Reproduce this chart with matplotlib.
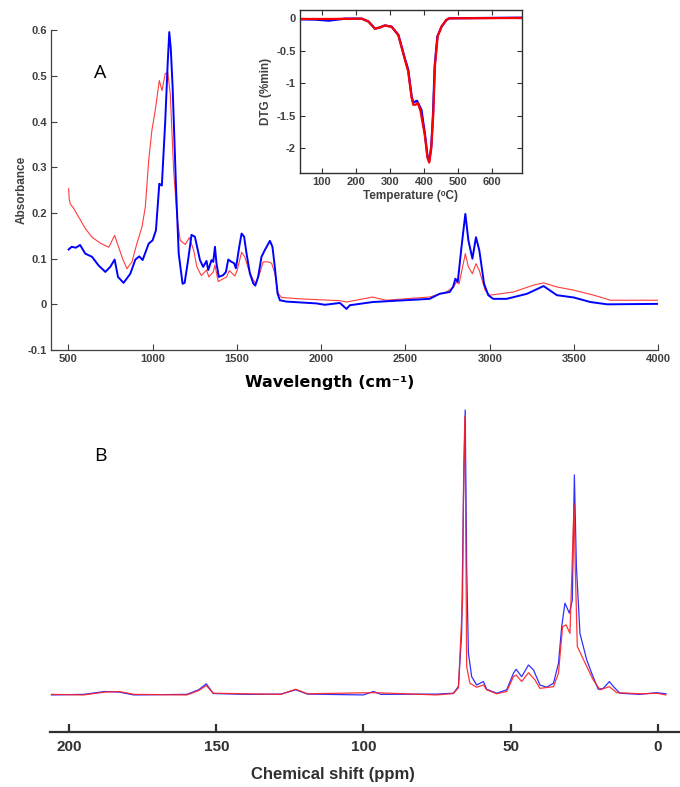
import matplotlib
matplotlib.use("Agg")
import matplotlib.pyplot as plt

W, H = 680, 787
GREY = "#404040"
BLUE = "#0000ff"
RED = "#ff3c3c"

plt.rcParams["font.family"] = ["Liberation Sans", "DejaVu Sans"]

# ---- FTIR (panel A) ----
ir_blue_wn = [502, 520, 545, 570, 601, 641, 680, 720, 749, 775, 795, 828, 868, 898, 921, 941,
              977, 1000, 1020, 1040, 1055, 1075, 1090, 1099, 1108, 1119, 1139, 1155, 1178, 1190,
              1210, 1231, 1251, 1281, 1300, 1320, 1330, 1350, 1360, 1370, 1379, 1393, 1419, 1435,
              1449, 1468, 1484, 1494, 1502, 1514, 1528, 1543, 1557, 1577, 1597, 1609, 1626, 1646,
              1666, 1696, 1711, 1725, 1741, 1755, 1794, 1972, 2022, 2111, 2150, 2170, 2305, 2643,
              2702, 2762, 2782, 2796, 2810, 2832, 2855, 2873, 2897, 2918, 2938, 2966, 2991, 3020,
              3100, 3220, 3319, 3398, 3498, 3597, 3697, 4000]
ir_blue_abs = [0.120, 0.126, 0.124, 0.130, 0.111, 0.104, 0.085, 0.071, 0.082, 0.098, 0.060, 0.047,
               0.067, 0.098, 0.105, 0.097, 0.133, 0.140, 0.162, 0.264, 0.260, 0.400, 0.530, 0.596,
               0.560, 0.475, 0.257, 0.111, 0.045, 0.047, 0.095, 0.152, 0.148, 0.097, 0.082, 0.095,
               0.075, 0.097, 0.093, 0.126, 0.090, 0.060, 0.064, 0.071, 0.098, 0.093, 0.090, 0.079,
               0.097, 0.126, 0.155, 0.148, 0.112, 0.068, 0.046, 0.041, 0.060, 0.104, 0.119, 0.139,
               0.126, 0.082, 0.024, 0.009, 0.006, 0.002, -0.001, 0.003, -0.010, -0.002, 0.005,
               0.012, 0.023, 0.027, 0.038, 0.056, 0.049, 0.125, 0.198, 0.140, 0.100, 0.147, 0.118,
               0.045, 0.020, 0.012, 0.012, 0.023, 0.040, 0.020, 0.015, 0.005, 0.000, 0.001]

ir_red_wn = [502, 506, 512, 532, 562, 601, 641, 690, 740, 775, 799, 822, 848, 878, 907, 937, 957,
             977, 996, 1016, 1040, 1056, 1075, 1090, 1105, 1125, 1145, 1164, 1194, 1218, 1244, 1263,
             1289, 1320, 1334, 1360, 1370, 1389, 1439, 1455, 1488, 1502, 1528, 1547, 1567, 1597,
             1613, 1636, 1656, 1686, 1706, 1725, 1745, 1765, 1874, 2111, 2150, 2305, 2325, 2385,
             2643, 2742, 2786, 2802, 2818, 2855, 2873, 2897, 2918, 2938, 2972, 3000, 3140, 3259,
             3319, 3398, 3498, 3617, 3716, 4000]
ir_red_abs = [0.253, 0.230, 0.220, 0.210, 0.191, 0.166, 0.147, 0.134, 0.125, 0.151, 0.125, 0.100,
              0.078, 0.093, 0.133, 0.169, 0.213, 0.315, 0.381, 0.425, 0.490, 0.468, 0.505, 0.508,
              0.461, 0.293, 0.191, 0.140, 0.131, 0.146, 0.118, 0.082, 0.063, 0.075, 0.060, 0.071,
              0.086, 0.050, 0.060, 0.074, 0.062, 0.075, 0.114, 0.104, 0.079, 0.053, 0.046, 0.068,
              0.093, 0.093, 0.090, 0.068, 0.024, 0.015, 0.012, 0.008, 0.005, 0.016, 0.014, 0.009,
              0.016, 0.027, 0.038, 0.049, 0.045, 0.111, 0.082, 0.067, 0.089, 0.074, 0.031, 0.020,
              0.027, 0.042, 0.047, 0.038, 0.031, 0.020, 0.009, 0.009]

ir_yticks = [-0.1, 0, 0.1, 0.2, 0.3, 0.4, 0.5, 0.6]
ir_ylabels = ["-0.1", "0", "0.1", "0.2", "0.3", "0.4", "0.5", "0.6"]
ir_xticks = [500, 1000, 1500, 2000, 2500, 3000, 3500, 4000]

# ---- DTG inset ----
dtg_blue_t = [37, 80, 120, 168, 217, 237, 256, 271, 285, 305, 325, 344, 354, 364, 369, 375, 380,
              393, 403, 411, 416, 422, 427, 432, 440, 452, 466, 475, 686]
dtg_blue_v = [-0.015, -0.02, -0.036, -0.005, -0.005, -0.05, -0.16, -0.14, -0.11, -0.128, -0.256,
              -0.615, -0.79, -1.2, -1.30, -1.28, -1.27, -1.41, -1.77, -2.13, -2.2, -1.97, -1.5,
              -0.74, -0.28, -0.13, -0.03, 0.0, 0.01]
dtg_red_t = [37, 120, 217, 237, 256, 271, 285, 305, 325, 344, 354, 364, 369, 376, 382, 390, 403,
             411, 416, 422, 428, 433, 441, 453, 467, 476, 686]
dtg_red_v = [-0.01, -0.01, -0.005, -0.05, -0.16, -0.14, -0.11, -0.13, -0.26, -0.63, -0.82, -1.22,
             -1.33, -1.33, -1.30, -1.42, -1.80, -2.15, -2.22, -2.0, -1.45, -0.72, -0.27, -0.12,
             -0.02, 0.0, 0.005]
dtg_yticks = [-2, -1.5, -1, -0.5, 0]
dtg_ylabels = ["-2", "-1.5", "-1", "-0.5", "0"]
dtg_xticks = [100, 200, 300, 400, 500, 600]

# ---- 13C NMR (panel B) ----
nmr_blue_ppm = [206, 195, 188, 183, 178, 160, 156, 153.4, 151, 140, 128, 123, 119, 100, 96.6, 94,
                75, 69.4, 67.7, 66.6, 66.0, 65.4, 64.9, 64.3, 63.2, 61.5, 59.2, 58.1, 54.7, 51.3,
                49.0, 48.1, 46.2, 43.9, 42.2, 40.0, 37.7, 35.4, 33.7, 32.6, 31.5, 30.0, 29.0, 28.3,
                27.6, 26.4, 24.1, 22.4, 20.2, 18.5, 16.4, 15.1, 12.8, 6.0, 0.3, -2.8]
nmr_blue_int = [0.0, 0.002, 0.012, 0.010, 0.0, 0.002, 0.018, 0.039, 0.005, 0.002, 0.003, 0.018,
                0.003, 0.0, 0.012, 0.002, 0.003, 0.006, 0.03, 0.216, 0.684, 1.0, 0.45, 0.146,
                0.064, 0.035, 0.047, 0.02, 0.006, 0.018, 0.076, 0.09, 0.064, 0.105, 0.088, 0.035,
                0.027, 0.041, 0.111, 0.24, 0.322, 0.287, 0.333, 0.772, 0.45, 0.216, 0.123, 0.076,
                0.02, 0.023, 0.047, 0.03, 0.006, 0.002, 0.008, 0.004]
nmr_red_ppm = [206, 195, 188, 183, 178, 160, 156, 153.4, 151, 128, 123, 119, 96.6, 75, 69.4, 67.7,
               66.3, 65.9, 65.5, 65.2, 64.9, 63.8, 61.5, 59.2, 58.1, 54.7, 51.3, 49.0, 48.1, 46.2,
               43.9, 41.7, 40.0, 35.4, 33.7, 32.3, 31.1, 29.8, 28.4, 28.0, 27.3, 24.1, 21.9, 19.6,
               16.4, 13.9, 6.0, 0.3, -2.8]
nmr_red_int = [0.002, 0.0, 0.010, 0.012, 0.002, 0.0, 0.015, 0.033, 0.006, 0.002, 0.02, 0.004,
               0.008, 0.0, 0.005, 0.025, 0.333, 0.8, 0.977, 0.6, 0.1, 0.041, 0.027, 0.035, 0.018,
               0.004, 0.012, 0.064, 0.07, 0.047, 0.078, 0.053, 0.023, 0.029, 0.076, 0.24, 0.246,
               0.216, 0.672, 0.45, 0.17, 0.1, 0.053, 0.018, 0.029, 0.008, 0.004, 0.006, 0.0]
nmr_xticks = [200, 150, 100, 50, 0]


def px_axes(fig, left, top, right, bottom):
    return fig.add_axes([left / W, 1 - bottom / H, (right - left) / W, (bottom - top) / H])


fig = plt.figure(figsize=(W / 100, H / 100), dpi=100, facecolor="white")

# panel A
ax = px_axes(fig, 51.4, 30.3, 658.4, 350)
ax.plot(ir_red_wn, ir_red_abs, color=RED, lw=0.8)
ax.plot(ir_blue_wn, ir_blue_abs, color=BLUE, lw=1.4)
ax.set_xlim(400, 4000)
ax.set_ylim(-0.1, 0.6)
ax.set_yticks(ir_yticks)
ax.set_yticklabels(ir_ylabels)
ax.set_xticks(ir_xticks)
for s in ("top", "right"):
    ax.spines[s].set_visible(False)
for s in ("left", "bottom"):
    ax.spines[s].set_color(GREY)
    ax.spines[s].set_linewidth(0.9)
ax.tick_params(direction="in", length=4.5, width=0.8, color=GREY, labelsize=8,
               labelcolor=GREY, pad=3)
for lab in ax.get_xticklabels() + ax.get_yticklabels():
    lab.set_fontweight("bold")
ax.set_ylabel("Absorbance", fontsize=8.5, fontweight="bold", color=GREY, labelpad=0)
fig.text(330 / W, 1 - 383 / H, "Wavelength (cm\u207b\u00b9)", fontsize=11.5, fontweight="bold",
         family=["DejaVu Sans"], ha="center", va="center")
fig.text(100 / W, 1 - 73 / H, "A", fontsize=14, family=["Open Sans"], ha="center", va="center")

# inset
ins = px_axes(fig, 300, 10, 521.5, 173.3)
ins.plot(dtg_blue_t, dtg_blue_v, color=BLUE, lw=1.6)
ins.plot(dtg_red_t, dtg_red_v, color="#ff0000", lw=1.6)
ins.set_xlim(35, 688)
ins.set_ylim(-2.385, 0.128)
ins.set_yticks(dtg_yticks)
ins.set_yticklabels(dtg_ylabels)
ins.set_xticks(dtg_xticks)
for s in ins.spines.values():
    s.set_color("#303030")
    s.set_linewidth(1.0)
ins.tick_params(direction="in", length=3.5, width=0.8, color="#303030", labelsize=8,
                labelcolor=GREY, top=True, right=True, pad=3)
for lab in ins.get_xticklabels() + ins.get_yticklabels():
    lab.set_fontweight("bold")
ins.set_ylabel("DTG (%min)", fontsize=8.5, fontweight="bold", color=GREY, labelpad=3)
ins.set_xlabel("Temperature (\u1d52C)", fontsize=8.5, fontweight="bold", color=GREY, labelpad=2)

# panel B
bx = px_axes(fig, 50, 400, 680, 731.7)
bx.plot(nmr_blue_ppm, nmr_blue_int, color="#3030ff", lw=0.9)
bx.plot(nmr_red_ppm, nmr_red_int, color="#ff2020", lw=0.9, alpha=0.9)
bx.set_xlim(206.5, -7.6)
bx.set_ylim(-0.129, 1.035)
bx.set_xticks(nmr_xticks)
bx.set_yticks([])
for s in ("top", "right", "left"):
    bx.spines[s].set_visible(False)
bx.spines["bottom"].set_linewidth(1.6)
bx.spines["bottom"].set_color("#303030")
bx.tick_params(axis="x", direction="in", length=6, width=1.6, color="#303030", labelsize=11,
               labelcolor="#303030", pad=6)
for lab in bx.get_xticklabels():
    lab.set_fontweight("bold")
fig.text(333 / W, 1 - 774 / H, "Chemical shift (ppm)", fontsize=12, fontweight="bold",
         color="#303030", ha="center", va="center")
fig.text(100 / W, 1 - 456 / H, "B", fontsize=14, family=["Open Sans"], ha="center", va="center")

fig.savefig("out.png", dpi=100, facecolor="white")
